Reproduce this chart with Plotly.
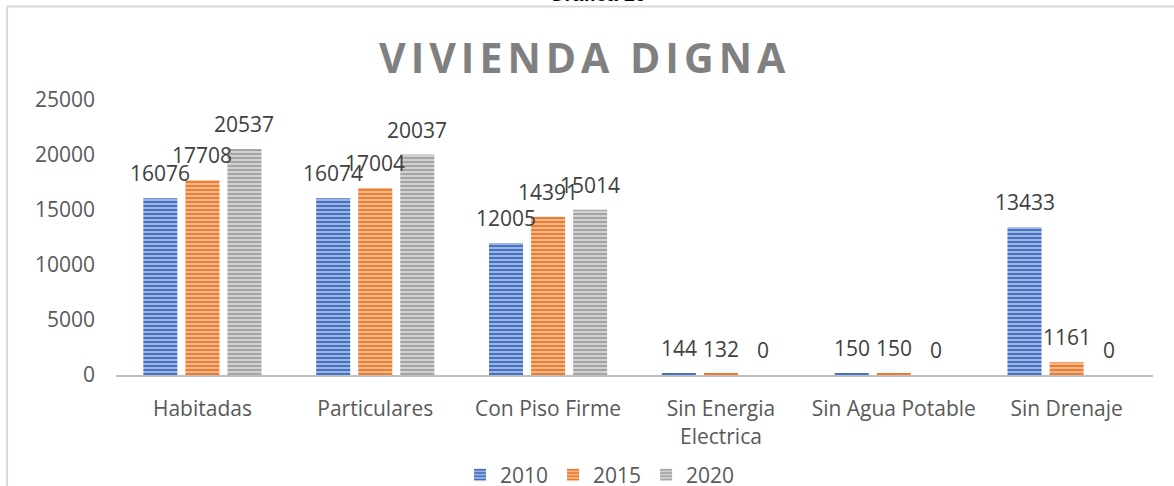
import plotly.graph_objects as go

categories = ["Habitadas", "Particulares", "Con Piso Firme", "Sin Energia<br>Electrica", "Sin Agua Potable", "Sin Drenaje"]
years = ["2010", "2015", "2020"]
v2010 = [16076, 16074, 12005, 144, 150, 13433]
v2015 = [17708, 17004, 14391, 132, 150, 1161]
v2020 = [20537, 20037, 15014, 0, 0, 0]
series = [v2010, v2015, v2020]

dark = ["#4472C4", "#ED7D31", "#A5A5A5"]
light = ["#A9BDE4", "#F6BE98", "#D6D6D6"]

FONT = "Open Sans"
W, H = 1174, 486
L, R, T, B = 115.5, 20.5, 100, 111
pw, ph = W - L - R, H - T - B

def px_x(p):
    return (p - L) / pw

def px_y(p):
    return (H - B - p) / ph

fig = go.Figure()
for name, vals, dc, lc in zip(years, series, dark, light):
    fig.add_trace(go.Bar(
        name=name, x=categories, y=vals,
        marker=dict(color=lc, line=dict(width=0),
                    pattern=dict(shape="-", fgcolor=dc, bgcolor=lc, size=4, solidity=0.55, fillmode="replace")),
    ))

offsets = [-42, 0, 42]
annotations = []
for vals, off in zip(series, offsets):
    for c, v in zip(categories, vals):
        annotations.append(dict(x=c, y=v, xref="x", yref="y", text=str(v), showarrow=False,
                                xshift=off, yshift=25, yanchor="middle",
                                font=dict(family=FONT, size=21, color="#404040")))

annotations.append(dict(x=px_x(584), y=px_y(57), xref="paper", yref="paper",
                        text='<span style="letter-spacing:5px">VIVIENDA DIGNA</span>', showarrow=False,
                        xanchor="center", yanchor="middle",
                        font=dict(family=FONT, size=41, color="#808080", weight="bold")))
annotations.append(dict(x=px_x(597), y=px_y(-6), xref="paper", yref="paper",
                        text="Gráfica 16", showarrow=False, xanchor="center", yanchor="middle",
                        font=dict(family="Liberation Sans", size=20, color="#000000", weight="bold")))

shapes = [
    dict(type="line", xref="paper", yref="paper", x0=px_x(6.5), x1=px_x(1180), y0=px_y(6.5), y1=px_y(6.5),
         line=dict(color="#D9D9D9", width=2)),
    dict(type="line", xref="paper", yref="paper", x0=px_x(6.5), x1=px_x(6.5), y0=px_y(6.5), y1=px_y(495),
         line=dict(color="#D9D9D9", width=2)),
]

fig.update_layout(
    width=W, height=H,
    margin=dict(l=L, r=R, t=T, b=B, autoexpand=False),
    paper_bgcolor="white", plot_bgcolor="white",
    barmode="group", bargap=0.27, bargroupgap=0.19,
    font=dict(family=FONT, size=21, color="#595959"),
    showlegend=True,
    legend=dict(orientation="h", x=px_x(600), y=px_y(475), xanchor="center", yanchor="middle",
                font=dict(family=FONT, size=21, color="#595959"), itemwidth=30),
    annotations=annotations,
    shapes=shapes,
    xaxis=dict(type="category", showline=True, linecolor="#BFBFBF", linewidth=2, ticks="",
               showgrid=False, ticklabelstandoff=14,
               tickfont=dict(family=FONT, size=21, color="#595959")),
    yaxis=dict(range=[0, 25000], tickvals=[0, 5000, 10000, 15000, 20000, 25000],
               showgrid=False, zeroline=False, showline=False, ticks="", ticklabelstandoff=20,
               tickformat="d", tickfont=dict(family=FONT, size=21, color="#595959")),
)

fig.write_html("out.html", config={"displayModeBar": False},
               post_script="document.body.style.margin='0';document.body.style.overflow='hidden';")
